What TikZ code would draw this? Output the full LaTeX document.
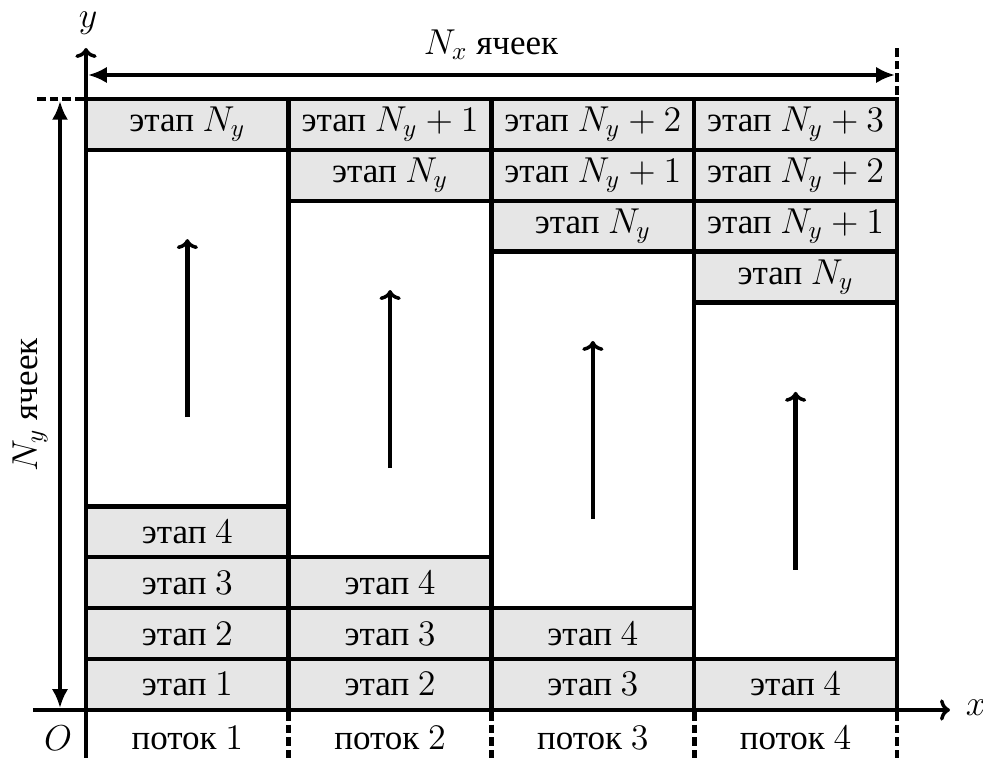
\documentclass[tikz,border=0pt]{standalone}
\usepackage{fontspec}
\setmainfont{Liberation Serif}
\usetikzlibrary{arrows.meta}
\definecolor{cellgray}{RGB}{230,230,230}
\begin{document}
\begin{tikzpicture}[x=0.4pt,y=-0.4pt,
  every node/.style={font=\fontsize{14}{16}\selectfont},
  thick line/.style={line width=1.8pt},
  cell/.style={draw, thick line, fill=cellgray, inner sep=0pt, outer sep=0pt,
    minimum width=81.1pt, minimum height=20.37pt},
  free/.style={draw, thick line, fill=white, inner sep=0pt, outer sep=0pt,
    minimum width=81.1pt, minimum height=142.58pt},
  axis/.style={thick line, -{To[length=4pt,width=8.5pt,line width=1.4pt]}},
  span/.style={thick line, {Latex[length=7.5pt,width=6.5pt]}-{Latex[length=7.5pt,width=6.5pt]}},
  flow/.style={thick line, -{To[length=4pt,width=8.5pt,line width=1.4pt]}},
  guide/.style={thick line, dash pattern=on 3.5pt off 1.6pt}]
\useasboundingbox (0,0) rectangle (983,758);

% stages and free blocks of each thread
\foreach \c in {0,1,2,3}{
  % lower stages 1..4
  \pgfmathtruncatemacro{\last}{3-\c}
  \foreach \r in {0,...,\last}{
    \pgfmathtruncatemacro{\k}{\r+1+\c}
    \node[cell] (s-\c-\r) at ({86+202.75*(\c+0.5)},{710-50.92*(\r+0.5)}) {этап $\k$};
  }
  % free block with the direction of the sweep
  \node[free] (w-\c) at ({86+202.75*(\c+0.5)},{710-50.92*(7.5-\c)}) {};
  \coordinate (a0-\c) at ([yshift=-35.6pt]w-\c.center);
  \coordinate (a1-\c) at ([yshift=35.6pt]w-\c.center);
  \draw[flow] (a0-\c) -- (a1-\c);
  % upper stages N_y .. N_y+c
  \foreach \m in {0,...,\c}{
    \pgfmathtruncatemacro{\r}{11-\c+\m}
    \ifnum\m=0
      \node[cell] (t-\c-\m) at ({86+202.75*(\c+0.5)},{710-50.92*(\r+0.5)}) {этап $N_y$};
    \else
      \node[cell] (t-\c-\m) at ({86+202.75*(\c+0.5)},{710-50.92*(\r+0.5)}) {этап $N_y+\m$};
    \fi
  }
  % thread label
  \pgfmathtruncatemacro{\n}{\c+1}
  \node (p-\c) at ({86+202.75*(\c+0.5)},738) {поток $\n$};
}

% axes
\coordinate (xs) at (33,710);
\coordinate (xe) at (950,710);
\coordinate (ys) at (86,758);
\coordinate (ye) at (86,48);
\draw[axis] (xs) -- (xe);
\draw[axis] (ys) -- (ye);
\node[anchor=west] (xl) at (957,708) {$x$};
\node[inner sep=0pt] (yl) at (88,23) {$y$};
\node (o) at (58,738) {$O$};

% thread boundaries below the axis
\foreach \c in {1,2,3,4}{
  \coordinate (d0-\c) at ({86+202.75*\c},712);
  \coordinate (d1-\c) at ({86+202.75*\c},758);
  \draw[guide] (d0-\c) -- (d1-\c);
}
\coordinate (rt0) at (897,95);
\coordinate (rt1) at (897,48);
\draw[guide] (rt0) -- (rt1);
\coordinate (lt0) at (84,99);
\coordinate (lt1) at (33,99);
\draw[guide] (lt0) -- (lt1);

% domain sizes
\coordinate (nx0) at (88,75);
\coordinate (nx1) at (895,75);
\draw[span] (nx0) -- (nx1);
\node (nxl) at (491,45) {$N_x$ ячеек};
\coordinate (ny0) at (60,101);
\coordinate (ny1) at (60,708);
\draw[span] (ny0) -- (ny1);
\node[rotate=90] (nyl) at (30,405) {$N_y$ ячеек};
\end{tikzpicture}
\end{document}
